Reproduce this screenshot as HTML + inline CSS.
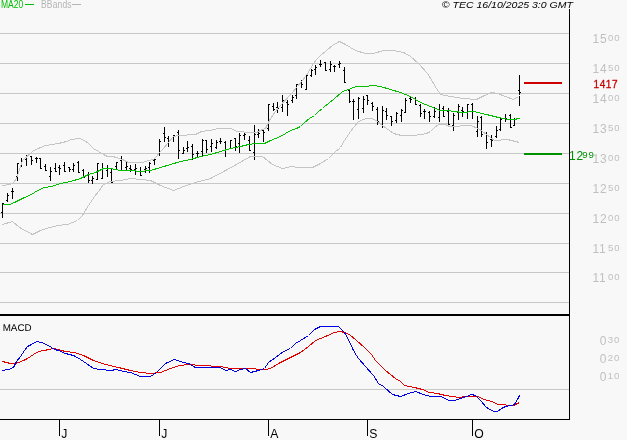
<!DOCTYPE html><html><head><meta charset="utf-8"><style>html,body{margin:0;padding:0;background:#f8f8f8;}svg{display:block}text{font-family:"Liberation Sans",Arial,sans-serif}</style></head><body>
<svg width="627" height="440" viewBox="0 0 627 440">
<rect x="0" y="0" width="627" height="440" fill="#f8f8f8"/>
<path d="M0 33.5H569M0 63.5H569M0 93.5H569M0 123.5H569M0 153.5H569M0 183.5H569M0 213.5H569M0 243.5H569M0 272.5H569M0 302.5H569" stroke="#c8c8c8" stroke-width="1" fill="none" shape-rendering="crispEdges"/>
<path d="M0 389.5H569" stroke="#c8c8c8" stroke-width="1" fill="none" shape-rendering="crispEdges"/>
<path d="M2 203h1v15h-1zM1 212h1v1h-1zM3 203h1v1h-1zM7 193h1v9h-1zM6 200h1v1h-1zM8 195h1v1h-1zM12 188h1v11h-1zM11 191h1v1h-1zM13 191h1v1h-1zM17 163h1v18h-1zM16 176h1v1h-1zM18 163h1v1h-1zM21 158h1v9h-1zM20 165h1v1h-1zM22 160h1v1h-1zM26 155h1v11h-1zM25 159h1v1h-1zM27 155h1v1h-1zM31 156h1v9h-1zM30 156h1v1h-1zM32 160h1v1h-1zM36 157h1v6h-1zM35 158h1v1h-1zM37 158h1v1h-1zM40 158h1v11h-1zM39 158h1v1h-1zM41 168h1v1h-1zM45 164h1v7h-1zM44 166h1v1h-1zM46 170h1v1h-1zM50 167h1v14h-1zM49 176h1v1h-1zM51 171h1v1h-1zM55 163h1v9h-1zM54 168h1v1h-1zM56 171h1v1h-1zM59 165h1v10h-1zM58 167h1v1h-1zM60 168h1v1h-1zM64 162h1v10h-1zM63 165h1v1h-1zM65 171h1v1h-1zM69 167h1v5h-1zM68 167h1v1h-1zM70 169h1v1h-1zM73 163h1v9h-1zM72 169h1v1h-1zM74 165h1v1h-1zM78 161h1v12h-1zM77 162h1v1h-1zM79 172h1v1h-1zM83 169h1v9h-1zM82 170h1v1h-1zM84 177h1v1h-1zM88 172h1v11h-1zM87 174h1v1h-1zM89 180h1v1h-1zM92 176h1v8h-1zM91 180h1v1h-1zM93 178h1v1h-1zM97 163h1v17h-1zM96 179h1v1h-1zM98 163h1v1h-1zM102 163h1v16h-1zM101 178h1v1h-1zM103 168h1v1h-1zM107 165h1v12h-1zM106 170h1v1h-1zM108 168h1v1h-1zM111 169h1v14h-1zM110 172h1v1h-1zM112 182h1v1h-1zM116 162h1v7h-1zM115 166h1v1h-1zM117 162h1v1h-1zM121 156h1v15h-1zM120 160h1v1h-1zM122 170h1v1h-1zM126 161h1v9h-1zM125 167h1v1h-1zM127 166h1v1h-1zM130 165h1v7h-1zM129 168h1v1h-1zM131 169h1v1h-1zM135 164h1v11h-1zM134 169h1v1h-1zM136 168h1v1h-1zM140 167h1v9h-1zM139 171h1v1h-1zM141 175h1v1h-1zM145 166h1v7h-1zM144 169h1v1h-1zM146 168h1v1h-1zM149 162h1v11h-1zM148 167h1v1h-1zM150 163h1v1h-1zM154 158h1v7h-1zM153 160h1v1h-1zM155 159h1v1h-1zM159 139h1v17h-1zM158 154h1v1h-1zM160 141h1v1h-1zM164 127h1v15h-1zM163 133h1v1h-1zM165 137h1v1h-1zM168 136h1v11h-1zM167 138h1v1h-1zM169 141h1v1h-1zM173 135h1v7h-1zM172 137h1v1h-1zM174 135h1v1h-1zM178 130h1v29h-1zM177 132h1v1h-1zM179 150h1v1h-1zM183 147h1v7h-1zM182 153h1v1h-1zM184 150h1v1h-1zM187 141h1v11h-1zM186 148h1v1h-1zM188 147h1v1h-1zM192 144h1v16h-1zM191 146h1v1h-1zM193 154h1v1h-1zM197 151h1v6h-1zM196 153h1v1h-1zM198 153h1v1h-1zM202 139h1v17h-1zM201 151h1v1h-1zM203 140h1v1h-1zM206 140h1v13h-1zM205 140h1v1h-1zM207 149h1v1h-1zM211 139h1v13h-1zM210 146h1v1h-1zM212 143h1v1h-1zM216 140h1v9h-1zM215 147h1v1h-1zM217 142h1v1h-1zM220 138h1v6h-1zM219 141h1v1h-1zM221 141h1v1h-1zM225 141h1v16h-1zM224 142h1v1h-1zM226 149h1v1h-1zM230 140h1v9h-1zM229 148h1v1h-1zM231 140h1v1h-1zM235 138h1v13h-1zM234 138h1v1h-1zM236 146h1v1h-1zM239 133h1v20h-1zM238 143h1v1h-1zM240 135h1v1h-1zM244 133h1v7h-1zM243 135h1v1h-1zM245 134h1v1h-1zM249 136h1v15h-1zM248 140h1v1h-1zM250 150h1v1h-1zM254 125h1v35h-1zM253 152h1v1h-1zM255 134h1v1h-1zM258 129h1v9h-1zM257 134h1v1h-1zM259 133h1v1h-1zM263 130h1v12h-1zM262 130h1v1h-1zM264 132h1v1h-1zM268 104h1v27h-1zM267 128h1v1h-1zM269 104h1v1h-1zM273 103h1v8h-1zM272 106h1v1h-1zM274 109h1v1h-1zM277 102h1v11h-1zM276 107h1v1h-1zM278 108h1v1h-1zM282 95h1v17h-1zM281 107h1v1h-1zM283 100h1v1h-1zM287 100h1v16h-1zM286 102h1v1h-1zM288 104h1v1h-1zM292 95h1v8h-1zM291 100h1v1h-1zM293 97h1v1h-1zM296 84h1v15h-1zM295 95h1v1h-1zM297 84h1v1h-1zM301 80h1v8h-1zM300 83h1v1h-1zM302 84h1v1h-1zM306 75h1v15h-1zM305 89h1v1h-1zM307 75h1v1h-1zM311 69h1v8h-1zM310 75h1v1h-1zM312 70h1v1h-1zM315 65h1v10h-1zM314 69h1v1h-1zM316 67h1v1h-1zM320 60h1v7h-1zM319 64h1v1h-1zM321 64h1v1h-1zM325 62h1v9h-1zM324 62h1v1h-1zM326 70h1v1h-1zM330 61h1v11h-1zM329 69h1v1h-1zM331 64h1v1h-1zM334 65h1v7h-1zM333 66h1v1h-1zM335 66h1v1h-1zM339 61h1v7h-1zM338 64h1v1h-1zM340 63h1v1h-1zM344 67h1v16h-1zM343 70h1v1h-1zM345 82h1v1h-1zM349 90h1v13h-1zM348 90h1v1h-1zM350 101h1v1h-1zM353 99h1v21h-1zM352 101h1v1h-1zM354 101h1v1h-1zM358 97h1v22h-1zM357 109h1v1h-1zM359 98h1v1h-1zM363 96h1v17h-1zM362 108h1v1h-1zM364 99h1v1h-1zM367 95h1v10h-1zM366 95h1v1h-1zM368 100h1v1h-1zM372 102h1v9h-1zM371 103h1v1h-1zM373 106h1v1h-1zM377 107h1v18h-1zM376 109h1v1h-1zM378 121h1v1h-1zM382 106h1v22h-1zM381 124h1v1h-1zM383 110h1v1h-1zM386 108h1v12h-1zM385 111h1v1h-1zM387 115h1v1h-1zM391 116h1v10h-1zM390 116h1v1h-1zM392 121h1v1h-1zM396 112h1v11h-1zM395 120h1v1h-1zM397 113h1v1h-1zM401 109h1v13h-1zM400 115h1v1h-1zM402 110h1v1h-1zM405 98h1v15h-1zM404 112h1v1h-1zM406 100h1v1h-1zM410 97h1v6h-1zM409 98h1v1h-1zM411 99h1v1h-1zM415 97h1v8h-1zM414 98h1v1h-1zM416 104h1v1h-1zM420 104h1v13h-1zM419 105h1v1h-1zM421 113h1v1h-1zM424 109h1v10h-1zM423 111h1v1h-1zM425 111h1v1h-1zM429 111h1v11h-1zM428 112h1v1h-1zM430 116h1v1h-1zM434 107h1v11h-1zM433 116h1v1h-1zM435 111h1v1h-1zM439 104h1v18h-1zM438 117h1v1h-1zM440 110h1v1h-1zM443 106h1v11h-1zM442 108h1v1h-1zM444 116h1v1h-1zM448 108h1v19h-1zM447 111h1v1h-1zM449 124h1v1h-1zM453 113h1v18h-1zM452 125h1v1h-1zM454 115h1v1h-1zM458 104h1v16h-1zM457 112h1v1h-1zM459 106h1v1h-1zM462 107h1v10h-1zM461 110h1v1h-1zM463 111h1v1h-1zM467 104h1v15h-1zM466 112h1v1h-1zM468 104h1v1h-1zM472 103h1v16h-1zM471 104h1v1h-1zM473 111h1v1h-1zM477 116h1v21h-1zM476 131h1v1h-1zM478 121h1v1h-1zM481 116h1v21h-1zM480 117h1v1h-1zM482 134h1v1h-1zM486 132h1v17h-1zM485 133h1v1h-1zM487 142h1v1h-1zM491 135h1v12h-1zM490 139h1v1h-1zM492 140h1v1h-1zM496 126h1v12h-1zM495 136h1v1h-1zM497 130h1v1h-1zM500 118h1v13h-1zM499 129h1v1h-1zM501 119h1v1h-1zM505 114h1v8h-1zM504 118h1v1h-1zM506 118h1v1h-1zM510 114h1v14h-1zM509 115h1v1h-1zM511 127h1v1h-1zM514 118h1v8h-1zM513 125h1v1h-1zM515 119h1v1h-1zM519 75h1v31h-1zM518 90h1v1h-1zM520 92h1v1h-1z" fill="#000" shape-rendering="crispEdges"/>
<path d="M2.5 185.5 L10.5 184.5 L13.5 182.5 L16.5 178.5 L22.5 160.5 L33.5 150.5 L45.5 145.5 L58.5 143.5 L66.5 141.5 L71.5 139.5 L79.5 138.5 L84.5 140.5 L88.5 143.5 L93.5 148.5 L98.5 151.5 L103.5 154.5 L107.5 156.5 L112.5 156.5 L116.5 157.5 L122.5 159.5 L128.5 162.5 L135.5 162.5 L142.5 162.5 L148.5 160.5 L153.5 159.5 L156.5 156.5 L159.5 152.5 L163.5 148.5 L168.5 142.5 L173.5 136.5 L179.5 135.5 L195.5 134.5 L201.5 131.5 L209.5 130.5 L218.5 128.5 L230.5 128.5 L237.5 131.5 L239.5 131.5 L248.5 132.5 L256.5 132.5 L262.5 129.5 L265.5 128.5 L268.5 122.5 L270.5 118.5 L278.5 107.5 L291.5 93.5 L297.5 86.5 L301.5 81.5 L306.5 75.5 L310.5 68.5 L313.5 63.5 L316.5 59.5 L320.5 55.5 L326.5 50.5 L332.5 45.5 L339.5 41.5 L345.5 44.5 L355.5 50.5 L365.5 53.5 L373.5 53.5 L383.5 50.5 L393.5 50.5 L403.5 52.5 L410.5 56.5 L418.5 63.5 L427.5 73.5 L432.5 81.5 L436.5 88.5 L440.5 94.5 L450.5 96.5 L462.5 98.5 L476.5 99.5 L484.5 95.5 L491.5 92.5 L497.5 93.5 L505.5 96.5 L513.5 99.5 L518.5 96.5" stroke="#c4c4c4" stroke-width="1" fill="none" shape-rendering="crispEdges" />
<path d="M2.5 224.5 L12.5 221.5 L19.5 227.5 L32.5 234.5 L40.5 230.5 L46.5 228.5 L57.5 225.5 L67.5 224.5 L77.5 220.5 L82.5 215.5 L88.5 205.5 L94.5 196.5 L98.5 191.5 L103.5 184.5 L110.5 181.5 L120.5 180.5 L130.5 178.5 L140.5 179.5 L150.5 180.5 L160.5 185.5 L173.5 190.5 L183.5 186.5 L195.5 182.5 L210.5 178.5 L225.5 170.5 L236.5 164.5 L243.5 160.5 L250.5 156.5 L262.5 156.5 L267.5 160.5 L272.5 164.5 L282.5 168.5 L291.5 166.5 L298.5 167.5 L312.5 167.5 L320.5 163.5 L328.5 158.5 L334.5 152.5 L340.5 147.5 L344.5 140.5 L350.5 131.5 L357.5 122.5 L360.5 120.5 L366.5 118.5 L372.5 118.5 L377.5 121.5 L382.5 125.5 L393.5 133.5 L401.5 135.5 L412.5 135.5 L421.5 134.5 L426.5 133.5 L430.5 131.5 L434.5 127.5 L438.5 124.5 L441.5 124.5 L445.5 124.5 L449.5 126.5 L453.5 126.5 L457.5 126.5 L462.5 125.5 L470.5 125.5 L478.5 128.5 L486.5 134.5 L494.5 140.5 L507.5 139.5 L519.5 142.5" stroke="#c4c4c4" stroke-width="1" fill="none" shape-rendering="crispEdges" />
<path d="M2.5 204.5 L6.5 204.5 L9.5 204.5 L14.5 202.5 L18.5 200.5 L24.5 197.5 L29.5 195.5 L34.5 192.5 L39.5 189.5 L44.5 187.5 L51.5 186.5 L57.5 184.5 L60.5 183.5 L70.5 181.5 L80.5 178.5 L88.5 174.5 L95.5 172.5 L103.5 168.5 L110.5 168.5 L120.5 170.5 L130.5 170.5 L140.5 171.5 L150.5 170.5 L160.5 167.5 L170.5 164.5 L180.5 161.5 L190.5 159.5 L200.5 156.5 L210.5 154.5 L220.5 151.5 L230.5 148.5 L240.5 146.5 L248.5 144.5 L256.5 143.5 L264.5 143.5 L270.5 140.5 L280.5 136.5 L290.5 130.5 L296.5 128.5 L300.5 126.5 L304.5 122.5 L309.5 118.5 L314.5 115.5 L318.5 111.5 L322.5 108.5 L324.5 106.5 L328.5 103.5 L334.5 98.5 L341.5 92.5 L344.5 90.5 L349.5 89.5 L352.5 87.5 L357.5 86.5 L362.5 86.5 L365.5 86.5 L373.5 85.5 L380.5 86.5 L390.5 89.5 L400.5 92.5 L410.5 96.5 L420.5 102.5 L430.5 106.5 L440.5 110.5 L446.5 110.5 L462.5 112.5 L473.5 111.5 L486.5 114.5 L498.5 117.5 L503.5 118.5 L508.5 119.5 L515.5 119.5 L517.5 118.5 L519.5 118.5" stroke="#00c000" stroke-width="1" fill="none" shape-rendering="crispEdges" />
<rect x="519" y="95" width="1" height="1" fill="#f8f8f8"/>
<rect x="524" y="82" width="38" height="2" fill="#cc0000"/>
<rect x="524" y="153" width="38" height="2" fill="#009000"/>
<path d="M2.5 361.5 L6.5 362.5 L10.5 363.5 L14.5 363.5 L18.5 362.5 L23.5 360.5 L27.5 358.5 L33.5 354.5 L38.5 351.5 L44.5 350.5 L48.5 349.5 L53.5 348.5 L57.5 349.5 L65.5 351.5 L74.5 352.5 L83.5 355.5 L93.5 360.5 L105.5 364.5 L118.5 367.5 L130.5 370.5 L140.5 372.5 L150.5 373.5 L160.5 372.5 L170.5 368.5 L179.5 365.5 L188.5 364.5 L200.5 365.5 L220.5 366.5 L230.5 368.5 L245.5 368.5 L265.5 369.5 L270.5 368.5 L280.5 362.5 L290.5 357.5 L300.5 352.5 L308.5 346.5 L315.5 340.5 L325.5 336.5 L334.5 332.5 L340.5 331.5 L344.5 332.5 L349.5 334.5 L356.5 340.5 L364.5 347.5 L367.5 350.5 L371.5 354.5 L375.5 360.5 L385.5 370.5 L395.5 378.5 L400.5 381.5 L404.5 385.5 L409.5 386.5 L414.5 387.5 L422.5 389.5 L429.5 392.5 L437.5 393.5 L445.5 395.5 L451.5 396.5 L459.5 397.5 L465.5 396.5 L470.5 396.5 L477.5 396.5 L484.5 399.5 L491.5 401.5 L498.5 404.5 L513.5 405.5 L519.5 402.5" stroke="#e00000" stroke-width="1" fill="none" shape-rendering="crispEdges" />
<path d="M2.5 370.5 L8.5 369.5 L13.5 367.5 L16.5 361.5 L20.5 356.5 L24.5 350.5 L27.5 346.5 L31.5 344.5 L36.5 341.5 L41.5 342.5 L46.5 344.5 L51.5 347.5 L54.5 349.5 L58.5 350.5 L65.5 353.5 L73.5 355.5 L80.5 359.5 L86.5 363.5 L93.5 368.5 L100.5 369.5 L110.5 370.5 L116.5 369.5 L123.5 371.5 L130.5 372.5 L140.5 376.5 L150.5 376.5 L156.5 372.5 L165.5 363.5 L174.5 359.5 L183.5 362.5 L188.5 363.5 L195.5 367.5 L205.5 367.5 L220.5 367.5 L225.5 370.5 L230.5 369.5 L235.5 371.5 L240.5 369.5 L245.5 368.5 L250.5 372.5 L258.5 370.5 L264.5 368.5 L268.5 362.5 L275.5 357.5 L283.5 351.5 L290.5 348.5 L295.5 343.5 L300.5 340.5 L308.5 335.5 L314.5 329.5 L320.5 326.5 L338.5 326.5 L339.5 327.5 L344.5 332.5 L348.5 339.5 L352.5 348.5 L356.5 355.5 L358.5 358.5 L365.5 366.5 L373.5 375.5 L378.5 383.5 L383.5 386.5 L392.5 394.5 L400.5 396.5 L408.5 393.5 L415.5 391.5 L423.5 394.5 L430.5 396.5 L440.5 396.5 L449.5 400.5 L454.5 400.5 L460.5 398.5 L466.5 396.5 L471.5 394.5 L475.5 395.5 L477.5 397.5 L481.5 401.5 L485.5 406.5 L489.5 409.5 L494.5 411.5 L497.5 411.5 L501.5 408.5 L505.5 406.5 L511.5 405.5 L514.5 404.5 L517.5 399.5 L519.5 395.5" stroke="#0000e0" stroke-width="1" fill="none" shape-rendering="crispEdges" />
<rect x="569" y="9" width="1" height="411" fill="#000"/>
<rect x="0" y="314" width="570" height="2" fill="#000"/>
<rect x="0" y="419" width="570" height="1" fill="#000"/>
<rect x="59" y="419" width="1" height="17" fill="#000"/>
<text x="61.3" y="438" font-size="12.2" fill="#000">J</text>
<rect x="159" y="419" width="1" height="17" fill="#000"/>
<text x="161.3" y="438" font-size="12.2" fill="#000">J</text>
<rect x="268" y="419" width="1" height="17" fill="#000"/>
<text x="270.3" y="438" font-size="12.2" fill="#000">A</text>
<rect x="367" y="419" width="1" height="17" fill="#000"/>
<text x="369.3" y="438" font-size="12.2" fill="#000">S</text>
<rect x="472" y="419" width="1" height="17" fill="#000"/>
<text x="474.3" y="438" font-size="12.2" fill="#000">O</text>
<text transform="translate(1,8.1) scale(0.83,1)" font-size="10.3" fill="#00c000">MA20</text>
<rect x="25" y="4" width="9" height="1" fill="#00c000"/>
<text transform="translate(41,8.1) scale(0.83,1)" font-size="10.3" fill="#b4b4b4" letter-spacing="0.15">BBands</text>
<rect x="72" y="4" width="9" height="1" fill="#b4b4b4"/>
<text transform="translate(441.8,8) scale(1.145,1)" x="0" y="0" font-size="9.2" font-style="italic" fill="#000">© TEC 16/10/2025 3:0 GMT</text>
<text x="2.7" y="331" font-size="9.8" text-rendering="geometricPrecision" fill="#000">MACD</text>
<text fill="#c0c0c0"><tspan x="592.5" y="43" font-size="12" letter-spacing="0.8">15</tspan><tspan x="608" y="41" font-size="9.6" letter-spacing="0.9">00</tspan></text>
<text fill="#c0c0c0"><tspan x="592.5" y="73" font-size="12" letter-spacing="0.8">14</tspan><tspan x="608" y="71" font-size="9.6" letter-spacing="0.9">50</tspan></text>
<text fill="#c0c0c0"><tspan x="592.5" y="103" font-size="12" letter-spacing="0.8">14</tspan><tspan x="608" y="101" font-size="9.6" letter-spacing="0.9">00</tspan></text>
<text fill="#c0c0c0"><tspan x="592.5" y="133" font-size="12" letter-spacing="0.8">13</tspan><tspan x="608" y="131" font-size="9.6" letter-spacing="0.9">50</tspan></text>
<text fill="#c0c0c0"><tspan x="592.5" y="163" font-size="12" letter-spacing="0.8">13</tspan><tspan x="608" y="161" font-size="9.6" letter-spacing="0.9">00</tspan></text>
<text fill="#c0c0c0"><tspan x="592.5" y="193" font-size="12" letter-spacing="0.8">12</tspan><tspan x="608" y="191" font-size="9.6" letter-spacing="0.9">50</tspan></text>
<text fill="#c0c0c0"><tspan x="592.5" y="223" font-size="12" letter-spacing="0.8">12</tspan><tspan x="608" y="221" font-size="9.6" letter-spacing="0.9">00</tspan></text>
<text fill="#c0c0c0"><tspan x="592.5" y="253" font-size="12" letter-spacing="0.8">11</tspan><tspan x="608" y="251" font-size="9.6" letter-spacing="0.9">50</tspan></text>
<text fill="#c0c0c0"><tspan x="592.5" y="282" font-size="12" letter-spacing="0.8">11</tspan><tspan x="608" y="280" font-size="9.6" letter-spacing="0.9">00</tspan></text>
<text x="593.6" y="87.5" fill="#c80000" stroke="#c80000" stroke-width="0.3" font-size="10" letter-spacing="0.55">1417</text>
<text fill="#009000"><tspan x="569" y="160.2" font-size="12" letter-spacing="0.8">12</tspan><tspan x="582.3" y="157.6" font-size="9.6" letter-spacing="0.9">99</tspan></text>
<text fill="#c0c0c0"><tspan x="599.8" y="345" font-size="12" letter-spacing="0.8">0</tspan><tspan x="607.8" y="343" font-size="9.6" letter-spacing="0.9">30</tspan></text>
<text fill="#c0c0c0"><tspan x="599.8" y="363" font-size="12" letter-spacing="0.8">0</tspan><tspan x="607.8" y="361" font-size="9.6" letter-spacing="0.9">20</tspan></text>
<text fill="#c0c0c0"><tspan x="599.8" y="381" font-size="12" letter-spacing="0.8">0</tspan><tspan x="607.8" y="379" font-size="9.6" letter-spacing="0.9">10</tspan></text>
</svg></body></html>
